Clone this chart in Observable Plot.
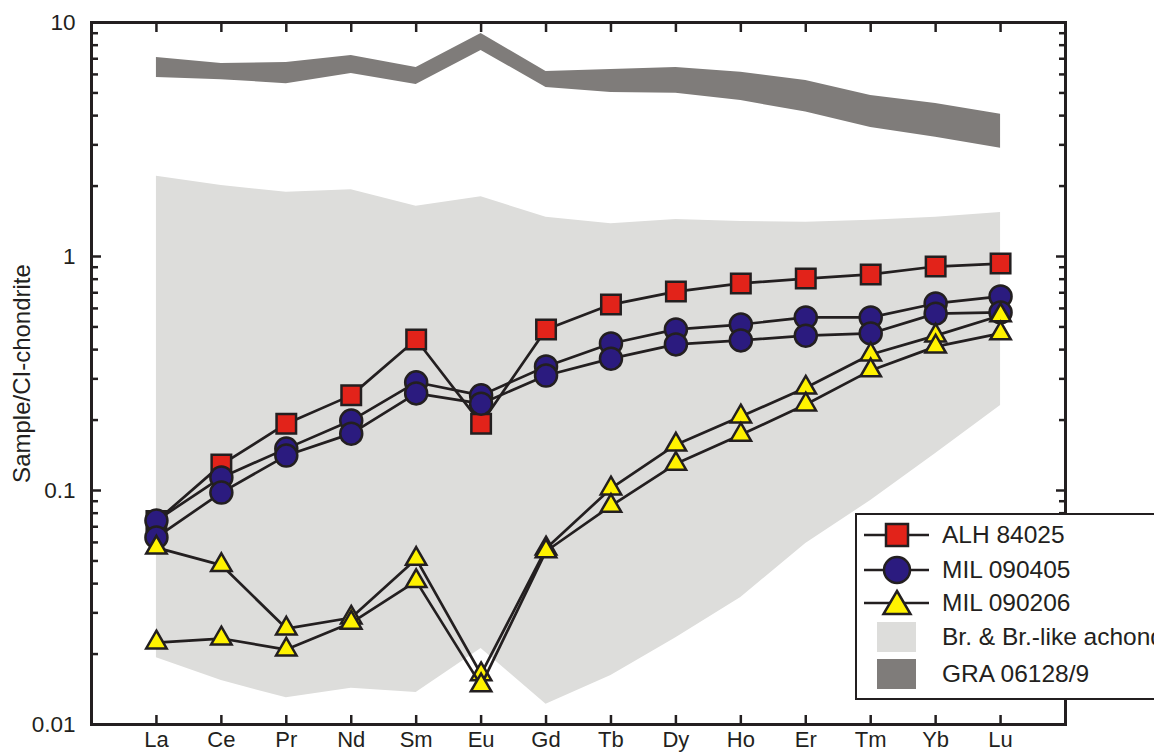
<!DOCTYPE html>
<html><head><meta charset="utf-8">
<script src="https://cdn.jsdelivr.net/npm/d3@7"></script>
<script src="https://cdn.jsdelivr.net/npm/@observablehq/plot@0.6"></script>
<style>
html,body{margin:0;padding:0;background:#fff;overflow:hidden;}
#wrap{position:relative;width:1154px;height:753px;overflow:hidden;font-family:"Liberation Sans",Arial,sans-serif;color:#231f20;}
#legend{position:absolute;left:855px;top:513px;width:340px;height:183px;border:2px solid #231f20;background:#fff;}
.row{position:absolute;left:0;height:34px;width:340px;}
.row svg{position:absolute;left:0;top:0;}
.row span{position:absolute;left:85px;top:0;line-height:34px;font-size:24.5px;white-space:nowrap;}
</style></head><body><div id="wrap"><div id="legend"></div></div>
<script>
// REE categories (x axis tick labels)
const ree = ["La","Ce","Pr","Nd","Sm","Eu","Gd","Tb","Dy","Ho","Er","Tm","Yb","Lu"];
// y-axis ticks
const yMajorTicks = [0.01, 0.1, 1, 10];
const yMinorTicks = [0.02,0.03,0.04,0.05,0.06,0.07,0.08,0.09,0.2,0.3,0.4,0.5,0.6,0.7,0.8,0.9,2,3,4,5,6,7,8,9];

// ALH 84025
const alh84025 = [0.074, 0.129, 0.193, 0.255, 0.442, 0.193, 0.488, 0.623, 0.708, 0.767, 0.805, 0.838, 0.906, 0.933];
// MIL 090405 (two analyses)
const mil090405a = [0.0744, 0.1137, 0.151, 0.199, 0.29, 0.255, 0.339, 0.425, 0.488, 0.512, 0.549, 0.549, 0.630, 0.675];
const mil090405b = [0.063, 0.098, 0.141, 0.175, 0.26, 0.235, 0.31, 0.366, 0.421, 0.438, 0.459, 0.469, 0.570, 0.577];
// MIL 090206 (two analyses)
const mil090206a = [0.057, 0.048, 0.0257, 0.0286, 0.051, 0.0164, 0.0565, 0.102, 0.157, 0.207, 0.275, 0.381, 0.459, 0.560];
const mil090206b = [0.0224, 0.0233, 0.0209, 0.0272, 0.041, 0.0147, 0.055, 0.086, 0.130, 0.173, 0.233, 0.326, 0.412, 0.469];
// Brachinite & brachinite-like achondrites field
const brUpper = [2.2, 2.01, 1.88, 1.93, 1.64, 1.80, 1.47, 1.38, 1.44, 1.41, 1.40, 1.43, 1.47, 1.54];
const brLower = [0.0193, 0.0154, 0.0130, 0.0143, 0.0137, 0.0211, 0.0122, 0.0162, 0.0235, 0.0349, 0.0594, 0.0906, 0.144, 0.231];
// GRA 06128/9 field
const graUpper = [7.08, 6.68, 6.75, 7.22, 6.43, 8.97, 6.18, 6.29, 6.43, 6.13, 5.65, 4.87, 4.51, 4.05];
const graLower = [5.82, 5.70, 5.48, 6.05, 5.43, 7.6, 5.27, 5.02, 4.98, 4.64, 4.14, 3.56, 3.23, 2.90];

const INK = "#231f20";
const colors = {alh: "#e2231a", mil405: "#2b1b7f", mil206: "#fff200", br: "#dddddb", gra: "#7f7c7a"};

const pts = arr => ree.map((el, i) => ({pos: i + 1, el, v: arr[i]}));
const band = (lo, hi) => ree.map((el, i) => ({pos: i + 1, el, lo: lo[i], hi: hi[i]}));
const xPos = ree.map((_, i) => i + 1);

function seriesMarks(arr, symbol, fill, r) {
  const d = pts(arr);
  return [
    Plot.line(d, {x: "pos", y: "v", stroke: INK, strokeWidth: 2.7}),
    Plot.dot(d, {x: "pos", y: "v", symbol, r, fill, stroke: INK, strokeWidth: 2.5})
  ];
}

const chart = Plot.plot({
  width: 1154, height: 753,
  marginLeft: 91, marginRight: 89, marginTop: 22, marginBottom: 29,
  style: {fontFamily: '"Liberation Sans", Arial, sans-serif', fontSize: "22px", color: INK, background: "#fff", overflow: "visible"},
  x: {type: "linear", domain: [0, 15]},
  y: {type: "log", domain: [0.01, 10]},
  marks: [
    Plot.areaY(band(brLower, brUpper), {x: "pos", y1: "lo", y2: "hi", fill: colors.br}),
    Plot.areaY(band(graLower, graUpper), {x: "pos", y1: "lo", y2: "hi", fill: colors.gra}),
    ...seriesMarks(alh84025, "square", colors.alh, 11),
    ...seriesMarks(mil090405a, "circle", colors.mil405, 11),
    ...seriesMarks(mil090405b, "circle", colors.mil405, 11),
    ...seriesMarks(mil090206a, "triangle", colors.mil206, 7.6),
    ...seriesMarks(mil090206b, "triangle", colors.mil206, 7.6),
    Plot.axisX({anchor: "bottom", ticks: xPos, tickFormat: d => ree[d - 1], tickSize: -9, tickPadding: 16, strokeWidth: 2.5, fontSize: 22, label: null}),
    Plot.axisX({anchor: "top", ticks: xPos, tickFormat: () => "", tickSize: -9, strokeWidth: 2.5, label: null}),
    Plot.axisY({anchor: "left", ticks: yMajorTicks, tickFormat: d => String(d), tickSize: -10, tickPadding: 26, strokeWidth: 2.5, fontSize: 22.5, label: null}),
    Plot.axisY({anchor: "left", ticks: yMinorTicks, tickFormat: () => "", tickSize: -7, strokeWidth: 2.5, label: null}),
    Plot.axisY({anchor: "right", ticks: yMajorTicks, tickFormat: () => "", tickSize: -10, strokeWidth: 2.5, label: null}),
    Plot.axisY({anchor: "right", ticks: yMinorTicks, tickFormat: () => "", tickSize: -7, strokeWidth: 2.5, label: null}),
    Plot.text(["Sample/CI-chondrite"], {text: d => d, frameAnchor: "left", textAnchor: "middle", lineAnchor: "middle", rotate: -90, dx: -69, fontSize: 24, fill: INK}),
    Plot.frame({stroke: INK, strokeWidth: 3})
  ]
});
const wrap = document.getElementById("wrap");
wrap.insertBefore(chart, wrap.firstChild);

// Legend
const legendItems = [
  {label: "ALH 84025", kind: "square", fill: colors.alh},
  {label: "MIL 090405", kind: "circle", fill: colors.mil405},
  {label: "MIL 090206", kind: "triangle", fill: colors.mil206},
  {label: "Br. & Br.-like achondrites", kind: "swatch", fill: colors.br},
  {label: "GRA 06128/9", kind: "swatch", fill: colors.gra}
];
const centers = [20, 55, 88, 122, 159];
const legend = document.getElementById("legend");
legendItems.forEach((it, i) => {
  const row = document.createElement("div");
  row.className = "row";
  row.style.top = (centers[i] - 17) + "px";
  let sym = "";
  if (it.kind === "swatch") {
    sym = `<rect x="20" y="2" width="39" height="30" fill="${it.fill}"/>`;
  } else {
    sym = `<line x1="7" x2="72" y1="17" y2="17" stroke="${INK}" stroke-width="2.7"/>`;
    if (it.kind === "square") sym += `<rect x="29" y="6" width="22" height="22" fill="${it.fill}" stroke="${INK}" stroke-width="2.5"/>`;
    if (it.kind === "circle") sym += `<circle cx="40" cy="17" r="13" fill="${it.fill}" stroke="${INK}" stroke-width="2.5"/>`;
    if (it.kind === "triangle") sym += `<polygon points="40,5 53.5,28 26.5,28" fill="${it.fill}" stroke="${INK}" stroke-width="2.5" stroke-linejoin="miter"/>`;
  }
  row.innerHTML = `<svg width="80" height="34">${sym}</svg><span>${it.label}</span>`;
  legend.appendChild(row);
});
</script>
</body></html>
